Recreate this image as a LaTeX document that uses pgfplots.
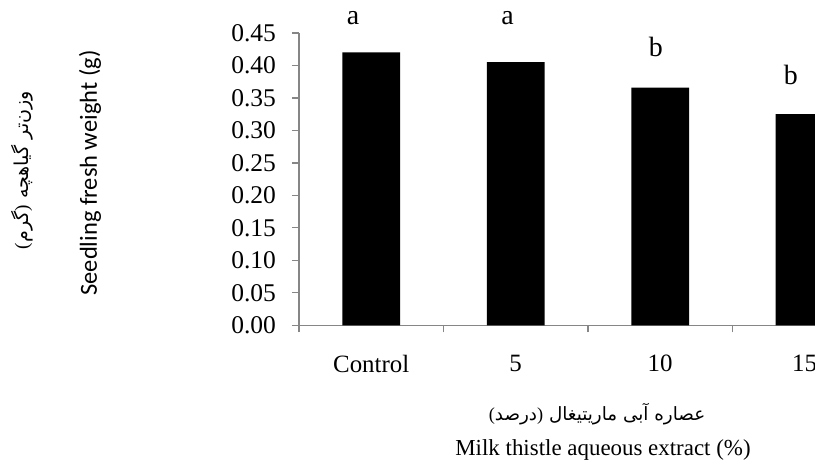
\documentclass[border=0pt]{standalone}
\usepackage{fontspec}
\setmainfont{Liberation Serif}
\newfontfamily\calfont{Carlito}
\newfontfamily\arabicfont[Script=Arabic]{DejaVu Sans}
\usepackage{pgfplots}
\pgfplotsset{compat=1.18}
\TeXXeTstate=1
\definecolor{axgray}{HTML}{868686}
\begin{document}
\begin{tikzpicture}
\path[use as bounding box] (-149.5bp,-68.85bp) rectangle (258bp,162.65bp);
\begin{axis}[
  at={(0,0)}, anchor=south west,
  scale only axis, width=258bp, height=146.15bp,
  xmin=-0.5, xmax=3.072, ymin=0, ymax=0.45,
  clip mode=individual,
  axis x line*=bottom, axis y line*=left,
  axis line style={draw=axgray, line width=0.6bp},
  ytick={0,0.05,0.1,0.15,0.2,0.25,0.3,0.35,0.4,0.45},
  /pgf/number format/assume math mode=true,
  yticklabel style={/pgf/number format/.cd, fixed, fixed zerofill, precision=2, /tikz/.cd, font=\fontsize{12.8}{14}\selectfont, xshift=-4.5bp},
  tick align=outside,
  major tick length=3.5bp,
  tick style={draw=axgray, line width=0.6bp},
  xtick={-0.5,0.5,1.5,2.5}, xticklabels={},
  extra x ticks={0,1,2,3}, extra x tick labels={Control,5,10,15},
  extra x tick style={major tick length=0pt, tick style={draw=none},
    tick label style={font=\fontsize{12.5}{14}\selectfont, yshift=-11.5bp}},
  ybar, bar width=0.4,
]
\addplot[fill=black, draw=none] coordinates {(0,0.42) (1,0.405) (2,0.366) (3,0.325)};
\node[anchor=base, font=\fontsize{14}{16}\selectfont] at (axis cs:-0.125,0.4634) {a};
\node[anchor=base, font=\fontsize{14}{16}\selectfont] at (axis cs:0.943,0.4634) {a};
\node[anchor=base, font=\fontsize{14}{16}\selectfont] at (axis cs:1.97,0.4135) {b};
\node[anchor=base, font=\fontsize{14}{16}\selectfont] at (axis cs:2.904,0.370) {b};
\end{axis}
\node[rotate=90, inner sep=0pt] at (-138.5bp,77.65bp) {\arabicfont\fontsize{9.6}{12}\selectfont\beginR وزن‌تر گیاهچه {\rmfamily)}گرم{\rmfamily(}\endR};
\node[rotate=90, inner sep=0pt] at (-104.5bp,76.15bp) {\calfont\fontsize{12.3}{14}\selectfont Seedling fresh weight (g)};
\node[inner sep=0pt] at (149bp,-44.35bp) {\arabicfont\fontsize{9.2}{12}\selectfont\beginR عصاره آبی ماریتیغال {\rmfamily)}درصد{\rmfamily(}\endR};
\node[inner sep=0pt] at (152bp,-62.35bp) {\fontsize{11.5}{13}\selectfont Milk thistle aqueous extract (\%)};
\end{tikzpicture}
\end{document}
